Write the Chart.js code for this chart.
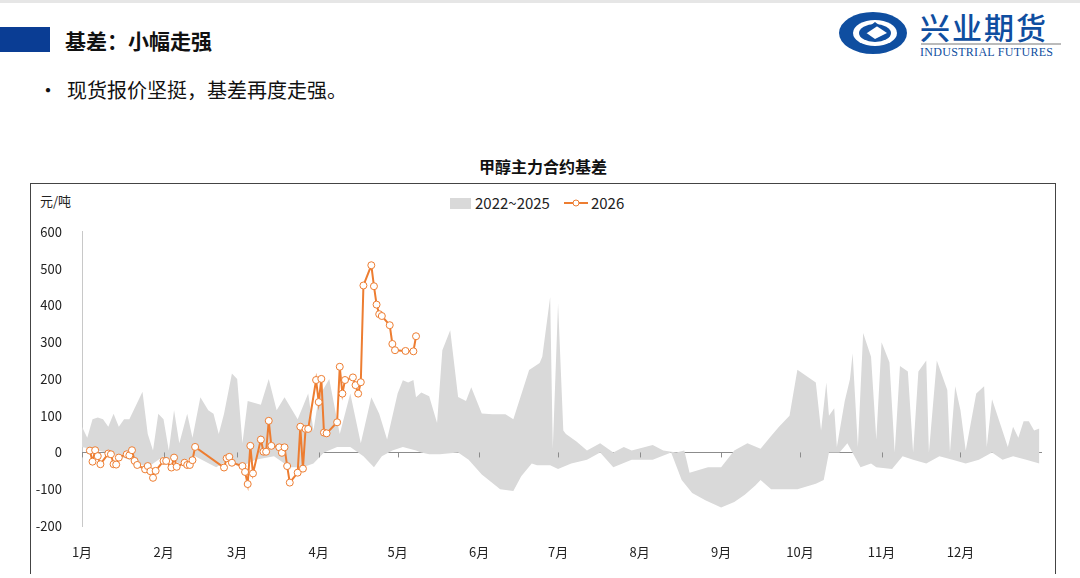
<!DOCTYPE html>
<html><head><meta charset="utf-8">
<script src="https://cdn.jsdelivr.net/npm/chart.js@4"></script>
<style>
body{margin:0;width:1080px;height:578px;background:#fff;position:relative;overflow:hidden;font-family:"Noto Sans CJK SC",sans-serif;}
.abs{position:absolute;}
</style></head><body>
<div class="abs" style="left:0;top:0;width:1080px;height:3px;background:#e6e6e6"></div>
<div class="abs" style="left:0;top:27px;width:50px;height:25px;background:#0a3d94"></div>
<div class="abs" style="left:65px;top:25px;font-size:21px;font-weight:bold;color:#111;line-height:30px">基差：小幅走强</div>
<div class="abs" style="left:38px;top:75px;font-size:20px;color:#111;line-height:30px">•&nbsp;&nbsp;现货报价坚挺，基差再度走强。</div>
<svg class="abs" style="left:835px;top:8px" width="80" height="50" viewBox="0 0 80 50">
<ellipse cx="38" cy="25" rx="34" ry="21" fill="#0f4ea0"/>
<ellipse cx="40" cy="25" rx="22" ry="13" fill="#fff"/>
<ellipse cx="40" cy="25" rx="16" ry="9" fill="#0f4ea0"/>
<polygon points="30,24 40,17 52,25 40,31" fill="#fff"/>
<polygon points="26,25 40,14 44,17 32,25" fill="#0f4ea0"/>
</svg>
<div class="abs" style="left:920px;top:8px;font-size:30px;color:#0f4ea0;font-family:'Noto Sans CJK SC';letter-spacing:2px;line-height:36px;font-weight:500">兴业期货</div>
<div class="abs" style="left:921px;top:43px;width:140px;height:2px;background:#bbb"></div>
<div class="abs" style="left:920px;top:45px;font-size:12px;color:#0f4ea0;font-family:'Liberation Serif';line-height:14px;letter-spacing:0.3px">INDUSTRIAL FUTURES</div>

<div class="abs" style="left:30px;top:183px;width:1024px;height:390px;border:1px solid #444;border-bottom:none"></div>
<div class="abs" style="left:30px;top:154px;width:1026px;text-align:center;font-size:16px;font-weight:bold;color:#111;line-height:24px">甲醇主力合约基差</div>
<div class="abs" style="left:40px;top:191px;font-size:13px;color:#222;line-height:20px">元/吨</div>
<div class="abs" style="left:450px;top:192px;font-size:15px;color:#222;line-height:22px;display:flex;align-items:center">
<span style="display:inline-block;width:21px;height:11px;background:#d9d9d9;margin-right:4px"></span>2022~2025
<svg width="24" height="12" style="margin-left:14px;margin-right:3px"><line x1="0" y1="6" x2="24" y2="6" stroke="#ed7d31" stroke-width="2"/><circle cx="12" cy="6" r="3" fill="#fff" stroke="#ed7d31" stroke-width="1"/></svg>2026
</div>
<canvas id="c" class="abs" style="left:30px;top:212px;width:1020px;height:348px"></canvas>
<script>
const monthLabels=["1月","2月","3月","4月","5月","6月","7月","8月","9月","10月","11月","12月"];
const monthStarts=[0,31,59,90,120,151,181,212,243,273,304,334];
const yTicks=[-200,-100,0,100,200,300,400,500,600];

const bandHighDays=[0,2,4,6,8,10,12,14,16,18,23,25,27,29,31,33,35,37,40,42,45,48,50,52,54,57,59,61,63,68,71,74,77,82,86,88,90,94,98,102,106,110,113,116,120,122,124,126,127,129,132,135,137,140,143,146,148,152,156,161,164,170,174,175,178,179,181,183,184,188,192,197,202,206,209,217,221,226,229,231,238,243,248,253,258,262,265,269,272,279,281,283,284,286,287,290,292,293,295,297,300,302,304,307,309,311,314,316,318,321,322,325,329,330,332,334,336,340,343,344,346,349,352,354,356,358,360,362,364];
const bandHigh=[70,40,90,95,90,70,105,70,90,90,165,50,5,105,90,5,115,25,105,40,150,115,105,50,105,215,200,25,140,130,200,115,150,90,160,60,150,200,50,160,25,150,105,35,160,196,190,197,150,163,153,80,278,332,151,140,177,106,104,104,90,224,243,260,423,10,406,60,50,30,5,25,0,15,5,20,5,0,5,-55,-40,-40,5,25,10,45,70,100,225,190,60,190,100,120,15,140,200,270,15,325,260,35,300,245,0,235,220,0,220,250,0,250,170,0,180,115,5,160,180,15,145,80,15,70,40,85,85,60,65];
const bandLowDays=[0,6,12,18,25,31,37,43,51,56,60,66,73,79,84,88,92,97,102,107,111,114,118,122,127,129,132,136,143,147,152,159,164,167,171,173,178,181,186,192,197,202,209,217,224,228,232,237,243,248,252,256,258,262,268,272,279,282,284,288,291,296,300,302,308,312,316,321,326,331,336,341,346,350,354,359,364];
const bandLow=[15,5,-5,-20,-40,-10,-30,-10,-40,-20,-40,-20,-10,-40,-40,-30,0,15,15,-10,-40,-10,5,15,5,0,-5,-5,0,-20,-60,-100,-105,-65,-30,-35,-35,-45,-30,-20,0,-40,-20,-20,0,-75,-110,-130,-150,-135,-115,-90,-75,-100,-100,-100,-85,-75,0,0,25,-40,-30,-40,-45,-10,-20,-30,-10,-20,-30,-20,0,-20,-10,-20,-30];
const days2026=[3,4,5,6,7,10,11,12,13,14,17,18,19,20,21,24,25,26,27,28,31,32,34,35,36,39,40,41,42,43,54,55,56,57,61,62,63,64,65,68,69,70,71,72,75,76,77,78,79,82,83,84,85,86,89,90,91,92,93,97,98,99,100,103,104,105,106,107,110,111,112,113,114,117,118,119,123,126,127];
const vals2026=[5,-25,6,-10,-32,-3,-5,-32,-33,-14,-5,-8,6,-23,-34,-46,-37,-51,-69,-50,-23,-23,-41,-14,-39,-28,-34,-34,-21,15,-41,-16,-12,-28,-37,-53,-86,18,-57,35,2,2,86,18,14,-1,14,-37,-82,-55,70,-44,64,64,197,137,200,54,52,82,233,160,197,204,183,160,191,454,509,452,402,376,371,346,295,278,276,275,316];

const xy=(d,v)=>d.map((x,i)=>({x,y:v[i]}));
const tickMarks={id:'tm',afterDatasetsDraw(ch){const c=ch.ctx,x=ch.scales.x,y=ch.scales.y;const y0=y.getPixelForValue(0);c.save();c.strokeStyle='#8c8c8c';c.lineWidth=1;
 monthStarts.forEach(m=>{const px=Math.round(x.getPixelForValue(m))+0.5;c.beginPath();c.moveTo(px,y0);c.lineTo(px,y0+5);c.stroke();});c.restore();}};
const zeroLine={id:'zl',beforeDatasetsDraw(ch){const c=ch.ctx,x=ch.scales.x,y=ch.scales.y;const y0=Math.round(y.getPixelForValue(0))+0.5;c.save();c.strokeStyle='#8c8c8c';c.lineWidth=1;c.beginPath();c.moveTo(ch.chartArea.left,y0);c.lineTo(ch.chartArea.right,y0);c.stroke();c.restore();}};
new Chart(document.getElementById('c'),{
 type:'line',
 data:{datasets:[
  {label:'low',data:xy(bandLowDays,bandLow),borderWidth:0,pointRadius:0,fill:false,tension:0,order:2},
  {label:'2022~2025',data:xy(bandHighDays,bandHigh),borderWidth:0,pointRadius:0,backgroundColor:'#d9d9d9',fill:'-1',tension:0,order:2},
  {label:'2026',data:xy(days2026,vals2026),borderColor:'#ed7d31',borderWidth:2,pointRadius:3.5,pointBackgroundColor:'#fff',pointBorderColor:'#ed7d31',pointBorderWidth:1,fill:false,tension:0,order:1}
 ]},
 options:{responsive:false,animation:false,devicePixelRatio:1,
  layout:{padding:{top:14,right:8,left:0,bottom:0}},
  plugins:{legend:{display:false},title:{display:false},tooltip:{enabled:false}},
  scales:{
   x:{type:'linear',min:0,max:365,grid:{display:false},border:{display:false},
      afterBuildTicks(s){s.ticks=monthStarts.map(v=>({value:v}));},
      afterFit(s){s.height=34;},
      ticks:{autoSkip:false,maxRotation:0,color:'#222',font:{family:'Noto Sans CJK SC',size:13},padding:10,callback:(v)=>monthLabels[monthStarts.indexOf(v)]}},
   y:{min:-200,max:600,grid:{display:false},border:{display:true,color:'#c8c8c8',width:1},
      afterBuildTicks(s){s.ticks=yTicks.map(v=>({value:v}));},
      afterFit(s){s.width=52;},
      ticks:{color:'#222',font:{family:'Noto Sans CJK SC',size:13},padding:12}}
  }},
 plugins:[zeroLine,tickMarks]
});
</script></body></html>
